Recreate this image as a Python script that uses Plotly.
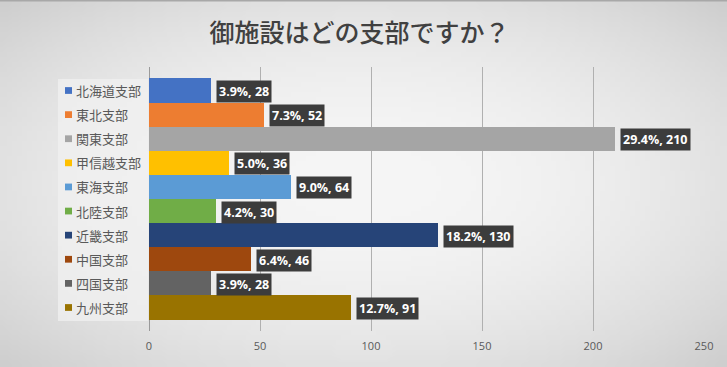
import base64
import struct
import zlib

import numpy as np
import plotly.graph_objects as go

# ---------------- data ----------------
categories = ["北海道支部", "東北支部", "関東支部", "甲信越支部", "東海支部",
              "北陸支部", "近畿支部", "中国支部", "四国支部", "九州支部"]
counts = [28, 52, 210, 36, 64, 30, 130, 46, 28, 91]
percents = [3.9, 7.3, 29.4, 5.0, 9.0, 4.2, 18.2, 6.4, 3.9, 12.7]
colors = ["#4472C4", "#ED7D31", "#A5A5A5", "#FFC000", "#5B9BD5",
          "#70AD47", "#264478", "#9E480E", "#636363", "#997300"]
x_ticks = [0, 50, 100, 150, 200, 250]
title_text = "御施設はどの支部ですか？"

# ---------------- layout constants ----------------
W, H = 727, 367
ML, MR, MT, MB = 149, 23, 67, 36
PW = W - ML - MR
PH = H - MT - MB


def px_to_paper_x(px):
    return (px - ML) / PW


def px_to_paper_y(py):
    return 1 - (py - MT) / PH


# ---------------- background gradient image ----------------
def png_gray(arr):
    h, w = arr.shape
    raw = b"".join(b"\x00" + bytes(arr[i].astype(np.uint8)) for i in range(h))
    def chunk(t, d):
        c = t + d
        return struct.pack(">I", len(d)) + c + struct.pack(">I", zlib.crc32(c) & 0xffffffff)
    ihdr = struct.pack(">IIBBBBB", w, h, 8, 0, 0, 0, 0)
    return (b"\x89PNG\r\n\x1a\n" + chunk(b"IHDR", ihdr)
            + chunk(b"IDAT", zlib.compress(raw, 9)) + chunk(b"IEND", b""))


gw, gh = 146, 74
yy, xx = np.mgrid[0:gh, 0:gw]
dx = (xx - (gw - 1) / 2) / ((gw - 1) / 2)
dy = (yy - (gh - 1) / 2) / ((gh - 1) / 2)
r2 = (dx ** 2 + dy ** 2) / 2
grad = np.clip(246 - 40 * r2, 0, 255)
bg_src = "data:image/png;base64," + base64.b64encode(png_gray(grad)).decode()

# ---------------- figure ----------------
fig = go.Figure()
fig.add_trace(go.Bar(
    x=counts, y=categories, orientation="h",
    marker=dict(color=colors, line=dict(width=0)),
    hoverinfo="skip", showlegend=False,
))

annotations = []
shapes = []

# legend box
shapes.append(dict(type="rect", xref="paper", yref="paper",
                   x0=px_to_paper_x(58), x1=px_to_paper_x(148),
                   y0=px_to_paper_y(321), y1=px_to_paper_y(79),
                   fillcolor="rgba(240,240,240,0.75)", line=dict(width=0),
                   layer="below"))
# top border
shapes.append(dict(type="line", xref="paper", yref="paper",
                   x0=px_to_paper_x(0), x1=px_to_paper_x(W),
                   y0=px_to_paper_y(0.5), y1=px_to_paper_y(0.5),
                   line=dict(color="#a8a8a8", width=2)))

for i, (cat, col) in enumerate(zip(categories, colors)):
    # legend squares
    shapes.append(dict(type="rect", xref="paper", yref="y",
                       x0=px_to_paper_x(65), x1=px_to_paper_x(72),
                       y0=i - 0.14, y1=i + 0.14,
                       fillcolor=col, line=dict(width=0)))
    annotations.append(dict(
        x=px_to_paper_x(74), xref="paper", y=cat, yref="y",
        text=cat, showarrow=False, xanchor="left", yanchor="middle",
        font=dict(family="Noto Sans CJK JP", size=13, color="#595959"),
    ))

for i, (cat, c, p) in enumerate(zip(categories, counts, percents)):
    label = f"{p:.1f}%, {c}"
    annotations.append(dict(
        x=c, y=cat, xref="x", yref="y", text=label, showarrow=False,
        xanchor="left", yanchor="middle", xshift=5, yshift=-1,
        bgcolor="#3c3c3c", borderpad=2,
        font=dict(family="Open Sans", size=12.5, color="#ffffff", weight="bold"),
    ))

fig.update_layout(
    width=W, height=H,
    margin=dict(l=ML, r=MR, t=MT, b=MB, pad=0),
    paper_bgcolor="#e2e2e2",
    plot_bgcolor="rgba(0,0,0,0)",
    bargap=0,
    title=dict(text=title_text, x=(359.5 - ML) / PW, xref="paper", xanchor="center",
               y=1 - 33 / H, yanchor="middle",
               font=dict(family="Noto Sans CJK JP", size=25, color="#404040", weight=500)),
    xaxis=dict(range=[0, 250], tickvals=x_ticks, showgrid=True,
               gridcolor="#b0b0b0", gridwidth=1,
               zeroline=True, zerolinecolor="#9a9a9a", zerolinewidth=1,
               showline=False, ticks="", ticklabelstandoff=7,
               tickfont=dict(family="Open Sans", size=11, color="#595959"),
               fixedrange=True),
    yaxis=dict(type="category", categoryorder="array", categoryarray=categories,
               range=[9.975, -0.975], showticklabels=False, showgrid=False,
               zeroline=False, showline=False, ticks="", fixedrange=True),
    images=[dict(source=bg_src, xref="paper", yref="paper",
                 x=px_to_paper_x(0), y=px_to_paper_y(0),
                 sizex=W / PW, sizey=H / PH, sizing="stretch",
                 xanchor="left", yanchor="top", layer="below")],
    shapes=shapes,
    annotations=annotations,
    showlegend=False,
)

fig.write_html("out.html", config={"displayModeBar": False, "staticPlot": True},
               post_script="document.body.style.margin='0';document.body.style.overflow='hidden';")
